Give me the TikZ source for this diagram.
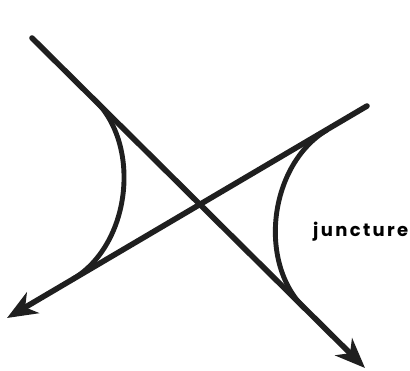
\documentclass[tikz,border=0pt]{standalone}
\usepackage{fontspec}
\newfontfamily\jfont[LetterSpace=13]{Poppins}
\usetikzlibrary{arrows.meta,calc}
\begin{document}
\begin{tikzpicture}[x=1pt,y=-1pt,
  stroke/.style={line width=5.6pt,line cap=round,black!88},
  curvestroke/.style={line width=4.9pt,black!88},
  tip/.style={-{Stealth[length=30pt,width=24pt,inset=9pt]}}]
\useasboundingbox (0,0) rectangle (410,370);
\coordinate (A1) at (32,38);
\coordinate (A2) at (365,368);
\coordinate (B1) at (367,106);
\coordinate (B2) at (7,318);
\coordinate (L1) at (95,100);
\coordinate (L2) at (73,279);
\coordinate (R1) at (327,130);
\coordinate (R2) at (304,308);
\draw[stroke,tip] (A1) -- (A2);
\draw[stroke,tip] (B1) -- (B2);
\draw[curvestroke] (L1) .. controls ($(L1)+(47,47)$) and ($(L2)+(57,-34)$) .. (L2);
\draw[curvestroke] (R1) .. controls ($(R1)+(-57,34)$) and ($(R2)+(-47,-47)$) .. (R2);
\node[anchor=base west,inner sep=0pt,font=\jfont\bfseries\fontsize{18}{18}\selectfont] (lab) at (313,236) {juncture};
\end{tikzpicture}
\end{document}
